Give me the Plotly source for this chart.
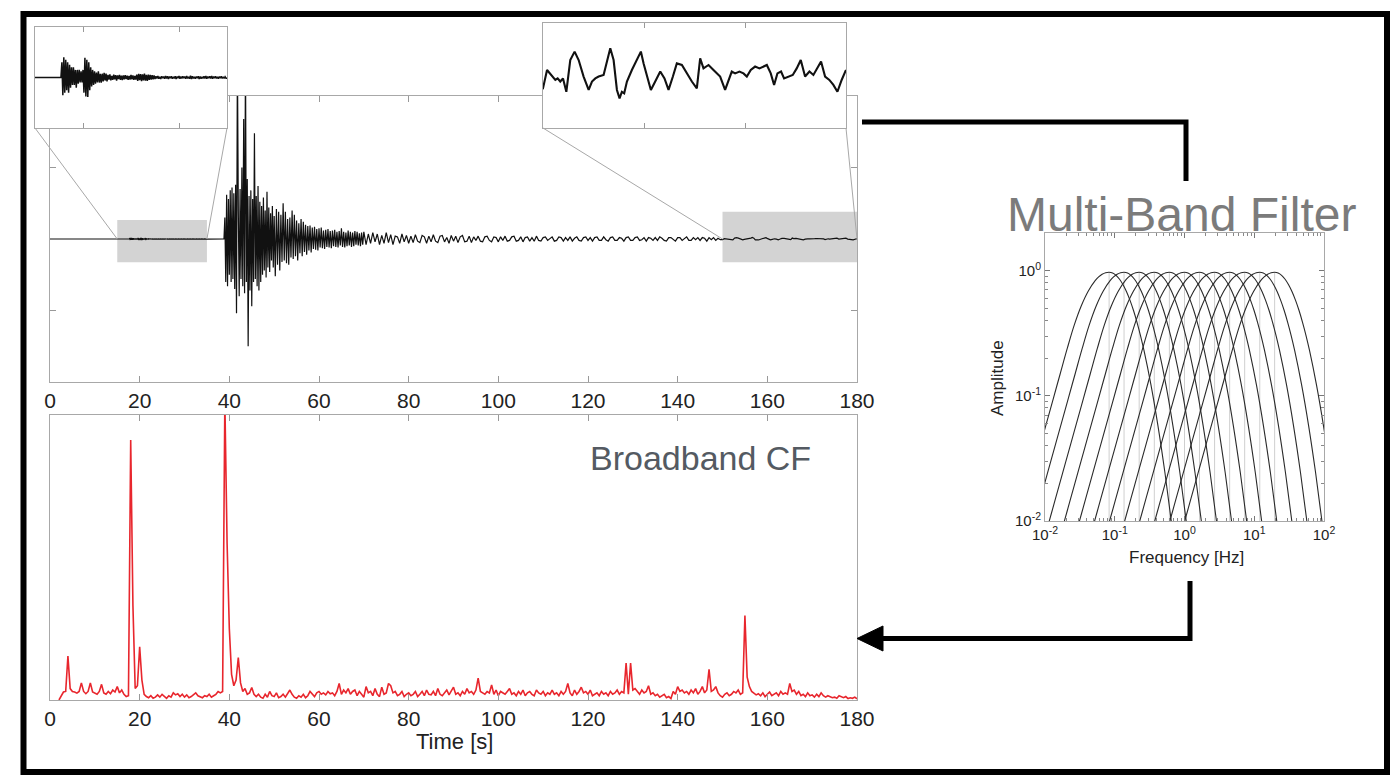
import numpy as np
import plotly.graph_objects as go

W, H = 1394, 777
FONT = "Liberation Sans, Arial, Helvetica, sans-serif"

# ------------------------------------------------------------------ data
time_ticks = [0, 20, 40, 60, 80, 100, 120, 140, 160, 180]

# --- seismogram (counts; main panel shows +-1000) ---
seis_pre_t = [0.0, 17.6]
seis_pre_v = [0.0, 0.0]

burst_start, burst_step = 17.7, 0.1
burst_v = [0, 6, -7, 8, -6, 7, -5, 6, -6, 5,
           -4, 4, -3, 4, -3, 3, -4, 3, -2.5, 3,
           -2, 2.5, -2, 3, -6, 7.8, -7.5, 7, -7.7, 6,
           -5, 4, -3.5, 3, -3, 2.5, -2.5, 2, -2, 2.5,
           -2, 1.5, -2, 1.5, -1.5, 1.8, -1.2, 1.5, -1.5]

coda1_start, coda1_step = 22.6, 0.1
coda1_v = [1.0, -0.8, 1.2, -1.1, 0.6, -0.9, 1.1, -0.7, 0.9, -1.2,
           0.8, -0.6, 1.0, -0.9, 0.7, -1.0, 0.8, -0.7, 0.9, -0.6,
           0.7, -0.9, 0.6, -0.8, 1.0, -0.7, 0.8, -0.9, 0.6, -0.8,
           1.1, -1.3, 1.4, -1.0, 1.3, -1.4, 1.2, -1.1, 1.5, -1.2,
           1.0, -1.3, 1.1, -0.9, 1.0, -0.8, 0.9, -0.7, 0.8, -0.6,
           0.5, -0.4, 0.6, -0.5, 0.3, -0.6, 0.5, -0.3, 0.4, -0.5,
           0.6, -0.4, 0.5, -0.6, 0.4, -0.3, 0.5, -0.5, 0.3, -0.4,
           0.5, -0.6, 0.4, -0.3, 0.6, -0.5, 0.4, -0.4, 0.5, -0.3,
           0.4, -0.5, 0.6, -0.4, 0.3, -0.5, 0.7, -0.6, 0.5, -0.4,
           0.3, -0.5, 0.4, -0.3, 0.5, -0.6, 0.4, -0.5, 0.3, -0.4,
           0.5, -0.4, 0.6, -0.5, 0.4, -0.3, 0.5, -0.4, 0.6, -0.5,
           0.4, -0.3, 0.5, -0.4, 0.3, -0.5, 0.4, -0.3, 0.5, -0.4,
           0.3, -0.4, 0.3, -0.3]

quiet_t = [38.8]
quiet_v = [0.0]

main_a_start, main_a_step = 39.0, 0.2
main_a_v = [150, -300, 310, -330, 280, -250, 340, -300, 360, -280,
            320, -350, 380, -520, 1300, 200, -400, 350, -280, 500,
            -330, 840, -380, 1300, -300, 420, -750, 300, -360, 340,
            -470, 280, -300, 740, -280, 300, -330, 370, -360, 260,
            -300, 230, -250, 290, -220, 200, -270, 330, -200, 220,
            -230, 180, -150, 230, -200, 160]

main_b_start, main_b_step = 50.25, 0.25
main_b_v = [-260, 210, -180, 190, -220, 170, -160, 250, -150, 190,
            -170, 140, -180, 150, -130, 200, -140, 170, -120, 130,
            -150, 110, -100, 140, -120, 120, -90, 100, -110, 90,
            -80, 95, -95, 80, -70, 85, -75, 70, -80, 75,
            -60, 80, -65, 60, -70, 65, -55, 70, -60, 55,
            -65, 60, -50, 65, -55, 50, -60, 55, -45, 75,
            -55, 50, -60, 45, -50, 60, -45, 50, -55, 45,
            -50, 55, -40, 50, -45, 40, -50, 45, -40, 50]

main_c_start, main_c_step = 70.5, 0.5
main_c_v = [-40, 35, -30, 45, -20, 35, -40, 25, -30, 45,
            -25, 30, -40, 20, 15, -30, 35, -20, 25, -30,
            20, -25, 30, -15, -25, 25, 15, -30, 20, -20,
            30, -15, -25, 20, 25, -20, 10, -30, 25, -15,
            20, -25, 15, 25, -20, -15, 20, -25, 15, -10,
            20, -15, -20, 15, 20, -10, -20, 15, 10, -20,
            15, -10, 20, -15, -10, 15, 20, -15, -10, 15,
            -20, 10, 15, -15, 10, -15, 20, -10, -15, 10,
            15, -10, 5, 15, -15, -10, 15, 10, -15, 10,
            -10, 15, -15, 5, 15, -10, -15, 10, 15, -10,
            10, -15, 10, 15, -10, -10, 15, -5, -15, 10,
            15, -10, -10, 10, 5, -15, 10, 15, -10, -10,
            10, 15, -10, -5, 10, -15, 10, 5, -10, 10,
            -10, 15, 5, -10, -15, 10, 10, -5, -15, 10,
            10, -10, 5, 15, -10, -10, 10, -5, 10, -10,
            10, 5, -15, 10, -5, 10, -10, 5, -5]

tail_t = [150.00, 150.40, 150.89, 151.22, 151.45, 151.71, 151.98, 152.31, 152.70, 153.13,
          153.53, 154.02, 154.52, 154.85, 155.18, 155.51, 156.00, 156.33, 156.66, 156.99,
          157.32, 157.58, 157.81, 158.04, 158.31, 158.80, 159.30, 159.69, 159.96, 160.29,
          160.68, 161.11, 161.61, 162.03, 162.43, 162.86, 163.25, 163.75, 164.24, 164.74,
          165.23, 165.56, 165.89, 166.39, 166.88, 167.54, 168.03, 168.46, 168.69, 169.02,
          169.45, 169.85, 170.18, 170.57, 171.00, 171.43, 171.89, 172.16, 172.55, 172.88,
          173.21, 173.57, 173.87, 174.30, 174.73, 175.12, 175.52, 175.95, 176.38, 176.77,
          177.17, 177.53, 177.93, 178.35, 178.75, 179.15, 179.57, 180.00]
tail_v = [-4.9, 2.1, -0.4, -1.7, -1.1, -2.3, -1.1, -6.2, 5.9, 9.1,
          5.9, -0.4, -5.5, -2.3, -1.1, -0.4, 0.2, 5.9, 10.4, 5.9,
          -5.5, -8.7, -6.2, -6.8, -2.3, 2.1, 5.9, 9.1, 4.6, -0.4,
          -5.5, -2.3, 1.5, -1.1, -5.5, -0.4, 4.6, 4.0, 0.8, -2.3,
          -4.9, 6.5, 2.7, 4.0, 2.1, -0.4, -5.5, -1.1, 1.5, 0.8,
          1.5, 0.8, -0.4, 2.1, 3.4, 2.7, 3.4, 4.0, 0.8, -3.6,
          0.8, 1.5, -1.1, -0.4, 0.2, 2.7, 5.9, -0.4, 1.5, 0.2,
          2.7, 5.3, -0.4, -1.7, -3.6, -6.2, -1.7, 2.1]

seis_amp_range = [-1000, 1000]
seis_yticks = [-500, 500]
gray_box_t = [[15, 35], [150, 180]]
gray_box_amp = [[-163, 133], [-163, 191]]
inset_windows = [[15, 35], [150, 180]]
inset_amp_range = [-20, 20]
inset_ticks = [[20, 30], [160, 170]]

# --- broadband characteristic function ---
cf_start, cf_step = 2.0, 0.5
cf_v = [0.0, 0.015, 0.028, 0.03, 0.154, 0.04, 0.03, 0.028, 0.024, 0.03,
        0.06, 0.03, 0.022, 0.03, 0.06, 0.028, 0.025, 0.02, 0.03, 0.055,
        0.025, 0.02, 0.03, 0.022, 0.035, 0.028, 0.047, 0.025, 0.035, 0.02,
        0.012, 0.015, 0.912, 0.33, 0.04, 0.05, 0.187, 0.07, 0.02, 0.012,
        0.008, 0.015, 0.006, 0.01, 0.018, 0.01, 0.02, 0.012, 0.006, 0.015,
        0.01, 0.025, 0.018, 0.022, 0.012, 0.02, 0.01, 0.018, 0.008, 0.012,
        0.02, 0.025, 0.015, 0.01, 0.008, 0.015, 0.012, 0.02, 0.01, 0.015,
        0.02, 0.03, 0.025, 0.03, 1.05, 0.55, 0.25, 0.09, 0.05, 0.07,
        0.149, 0.06, 0.03, 0.04, 0.02, 0.025, 0.044, 0.02, 0.012, 0.02,
        0.01, 0.006, 0.02, 0.01, 0.03, 0.015, 0.012, 0.025, 0.008, 0.012,
        0.02, 0.01, 0.025, 0.035, 0.02, 0.01, 0.006, 0.015, 0.01, 0.02,
        0.008, 0.015, 0.03, 0.02, 0.012, 0.025, 0.03, 0.02, 0.025, 0.018,
        0.03, 0.022, 0.025, 0.015, 0.03, 0.058, 0.02, 0.035, 0.025, 0.04,
        0.02, 0.03, 0.035, 0.015, 0.03, 0.02, 0.01, 0.047, 0.025, 0.03,
        0.015, 0.04, 0.02, 0.012, 0.045, 0.02, 0.025, 0.058, 0.05, 0.025,
        0.03, 0.015, 0.02, 0.03, 0.012, 0.02, 0.025, 0.015, 0.02, 0.03,
        0.012, 0.02, 0.03, 0.015, 0.035, 0.02, 0.018, 0.03, 0.015, 0.04,
        0.02, 0.015, 0.025, 0.035, 0.018, 0.03, 0.045, 0.02, 0.025, 0.015,
        0.03, 0.02, 0.04, 0.025, 0.03, 0.02, 0.035, 0.077, 0.03, 0.025,
        0.02, 0.03, 0.025, 0.053, 0.02, 0.035, 0.015, 0.03, 0.025, 0.02,
        0.03, 0.04, 0.02, 0.025, 0.015, 0.03, 0.02, 0.035, 0.015, 0.025,
        0.03, 0.02, 0.015, 0.035, 0.025, 0.02, 0.03, 0.015, 0.025, 0.02,
        0.035, 0.02, 0.025, 0.015, 0.03, 0.02, 0.03, 0.058, 0.025, 0.015,
        0.035, 0.02, 0.03, 0.045, 0.025, 0.03, 0.02, 0.035, 0.015, 0.02,
        0.025, 0.015, 0.03, 0.02, 0.025, 0.015, 0.03, 0.02, 0.025, 0.035,
        0.02, 0.03, 0.025, 0.13, 0.02, 0.13, 0.035, 0.04, 0.03, 0.02,
        0.035, 0.025, 0.03, 0.05, 0.02, 0.025, 0.015, 0.02, 0.01, 0.015,
        0.02, 0.008, 0.012, 0.005, 0.03, 0.02, 0.047, 0.03, 0.035, 0.025,
        0.03, 0.02, 0.035, 0.025, 0.04, 0.02, 0.03, 0.047, 0.025, 0.035,
        0.108, 0.03, 0.035, 0.047, 0.025, 0.015, 0.01, 0.02, 0.025, 0.015,
        0.02, 0.03, 0.025, 0.035, 0.02, 0.025, 0.296, 0.08, 0.047, 0.03,
        0.025, 0.018, 0.022, 0.015, 0.025, 0.012, 0.02, 0.028, 0.015, 0.02,
        0.025, 0.015, 0.03, 0.02, 0.025, 0.02, 0.058, 0.03, 0.035, 0.02,
        0.03, 0.015, 0.02, 0.012, 0.025, 0.015, 0.018, 0.01, 0.02, 0.012,
        0.025, 0.015, 0.01, 0.015, 0.012, 0.008, 0.01, 0.006, 0.015, 0.01,
        0.008, 0.012, 0.005, 0.008, 0.006, 0.01, 0.004]

# --- multi-band filter bank ---
band_centers_hz = [0.083, 0.136, 0.224, 0.369, 0.607, 1.0, 1.64, 2.70, 4.44, 7.29, 12.0, 19.6]
resp_offset_dec = [-1.4, -1.3, -1.2, -1.1, -1.0, -0.9, -0.8, -0.7, -0.6, -0.5, -0.4, -0.3,
                   -0.2, -0.15, -0.1, -0.05, 0.0, 0.05, 0.1, 0.15, 0.2, 0.25, 0.3, 0.35,
                   0.4, 0.45, 0.5, 0.6, 0.7, 0.8, 0.9, 1.0]
resp_log_amp = [-2.222, -2.022, -1.822, -1.622, -1.422, -1.222, -1.022, -0.822, -0.622, -0.436,
                -0.283, -0.165, -0.081, -0.051, -0.030, -0.017, -0.013, -0.019, -0.038, -0.069,
                -0.113, -0.169, -0.238, -0.319, -0.413, -0.519, -0.638, -0.913, -1.238, -1.613,
                -2.038, -2.513]
freq_ticks = [0.01, 0.1, 1, 10, 100]
freq_ticktext = ["10<sup>-2</sup>", "10<sup>-1</sup>", "10<sup>0</sup>", "10<sup>1</sup>", "10<sup>2</sup>"]
amp_ticks = [0.01, 0.1, 1]
amp_ticktext = ["10<sup>-2</sup>", "10<sup>-1</sup>", "10<sup>0</sup>"]


# ------------------------------------------------------------------ build series
def seg(start, step, vals):
    return list(start + step * np.arange(len(vals)))


seis_t = (seis_pre_t + seg(burst_start, burst_step, burst_v) + seg(coda1_start, coda1_step, coda1_v)
          + quiet_t + seg(main_a_start, main_a_step, main_a_v) + seg(main_b_start, main_b_step, main_b_v)
          + seg(main_c_start, main_c_step, main_c_v) + tail_t)
seis_v = (seis_pre_v + burst_v + coda1_v + quiet_v + main_a_v + main_b_v + main_c_v + tail_v)
cf_t = seg(cf_start, cf_step, cf_v)


# ------------------------------------------------------------------ layout helpers
def px(x):
    return x / W


def py(y):
    return 1 - y / H


DOM_MAIN_X = [px(50), px(857)]
DOM_TOP_Y = [py(382), py(96)]
DOM_BOT_Y = [py(700), py(415)]
DOM_F_X = [px(1045), px(1324)]
DOM_F_Y = [py(521), py(233)]
DOM_I1_X = [px(35), px(227)]
DOM_I1_Y = [py(128), py(27)]
DOM_I2_X = [px(543), px(846)]
DOM_I2_Y = [py(128), py(23)]

fig = go.Figure()

fig.add_trace(go.Scatter(x=seis_t, y=seis_v, mode="lines", line=dict(color="#111111", width=1.2),
                         xaxis="x", yaxis="y", hoverinfo="skip"))
fig.add_trace(go.Scatter(x=cf_t, y=cf_v, mode="lines", line=dict(color="#e8262d", width=1.6),
                         xaxis="x2", yaxis="y2", hoverinfo="skip"))
peak_amp = 10 ** resp_log_amp[resp_offset_dec.index(0.0)]
vx, vy = [], []
for c in band_centers_hz:
    vx += [c, c, None]
    vy += [0.01, peak_amp, None]
fig.add_trace(go.Scatter(x=vx, y=vy, mode="lines", line=dict(color="#cfcfcf", width=1),
                         xaxis="x3", yaxis="y3", hoverinfo="skip"))
for c in band_centers_hz:
    fx = [c * 10 ** u for u in resp_offset_dec]
    fy = [10 ** a for a in resp_log_amp]
    fig.add_trace(go.Scatter(x=fx, y=fy, mode="lines", line=dict(color="#2a2a2a", width=1.1, shape="spline"),
                             xaxis="x3", yaxis="y3", hoverinfo="skip"))
fig.add_trace(go.Scatter(x=seis_t, y=seis_v, mode="lines", line=dict(color="#111111", width=1.5),
                         xaxis="x4", yaxis="y4", hoverinfo="skip"))
fig.add_trace(go.Scatter(x=seis_t, y=seis_v, mode="lines", line=dict(color="#111111", width=2.1),
                         xaxis="x5", yaxis="y5", hoverinfo="skip"))

tickfont = dict(family=FONT, size=21, color="#222222")
frame = dict(showline=True, linecolor="#a8a8a8", linewidth=1, showgrid=False, zeroline=False, automargin=False)

fig.update_layout(
    template="none",
    width=W, height=H, autosize=False,
    margin=dict(l=0, r=0, t=0, b=0, pad=0, autoexpand=False),
    paper_bgcolor="white", plot_bgcolor="white",
    showlegend=False,
    font=dict(family=FONT),
    xaxis=dict(domain=DOM_MAIN_X, range=[0, 180], anchor="y", tickmode="array", tickvals=time_ticks,
               ticks="inside", ticklen=6, tickcolor="#999999", mirror="ticks", tickfont=tickfont, **frame),
    yaxis=dict(domain=DOM_TOP_Y, range=seis_amp_range, anchor="x", tickmode="array", tickvals=seis_yticks,
               ticks="inside", ticklen=6, tickcolor="#999999", mirror="ticks", showticklabels=False, **frame),
    xaxis2=dict(domain=DOM_MAIN_X, range=[0, 180], anchor="y2", tickmode="array", tickvals=time_ticks,
                ticks="inside", ticklen=6, tickcolor="#999999", mirror="ticks", tickfont=tickfont, **frame),
    yaxis2=dict(domain=DOM_BOT_Y, range=[0, 1], anchor="x2", ticks="", showticklabels=False,
                mirror=True, **frame),
    xaxis3=dict(domain=DOM_F_X, type="log", range=[-2, 2], anchor="y3", tickmode="array",
                tickvals=freq_ticks, ticktext=freq_ticktext, ticks="inside", ticklen=5, tickcolor="#777777",
                mirror="ticks", tickfont=dict(family=FONT, size=15, color="#222222"),
                minor=dict(ticks="inside", ticklen=3, tickcolor="#888888", tickmode="array",
                           tickvals=[m * 10 ** k for k in (-2, -1, 0, 1) for m in range(2, 10)]),
                **frame),
    yaxis3=dict(domain=DOM_F_Y, type="log", range=[-2, 0.3], anchor="x3", tickmode="array",
                tickvals=amp_ticks, ticktext=amp_ticktext, ticks="inside", ticklen=5, tickcolor="#777777",
                mirror="ticks", tickfont=dict(family=FONT, size=15, color="#222222"),
                minor=dict(ticks="inside", ticklen=3, tickcolor="#888888", tickmode="array",
                           tickvals=[m * 10 ** k for k in (-2, -1, 0) for m in range(2, 10)]),
                **frame),
    xaxis4=dict(domain=DOM_I1_X, range=inset_windows[0], anchor="y4", tickmode="array", tickvals=inset_ticks[0],
                ticks="inside", ticklen=5, tickcolor="#999999", mirror="ticks", showticklabels=False, **frame),
    yaxis4=dict(domain=DOM_I1_Y, range=inset_amp_range, anchor="x4", ticks="", showticklabels=False,
                mirror=True, **frame),
    xaxis5=dict(domain=DOM_I2_X, range=inset_windows[1], anchor="y5", tickmode="array", tickvals=inset_ticks[1],
                ticks="inside", ticklen=5, tickcolor="#999999", mirror="ticks", showticklabels=False, **frame),
    yaxis5=dict(domain=DOM_I2_Y, range=inset_amp_range, anchor="x5", ticks="", showticklabels=False,
                mirror=True, **frame),
)


def main_xp(t):
    return DOM_MAIN_X[0] + (t - 0) / 180 * (DOM_MAIN_X[1] - DOM_MAIN_X[0])


def main_yp(v):
    return DOM_TOP_Y[0] + (v - seis_amp_range[0]) / (seis_amp_range[1] - seis_amp_range[0]) * (DOM_TOP_Y[1] - DOM_TOP_Y[0])


shapes = []
for (t0, t1), (a0, a1) in zip(gray_box_t, gray_box_amp):
    shapes.append(dict(type="rect", xref="x", yref="y", x0=t0, x1=t1, y0=a0, y1=a1,
                       fillcolor="#d3d3d3", line=dict(width=0), layer="below"))
for dom_x, dom_y, (t0, t1) in [(DOM_I1_X, DOM_I1_Y, inset_windows[0]), (DOM_I2_X, DOM_I2_Y, inset_windows[1])]:
    for cx, tt in [(dom_x[0], t0), (dom_x[1], t1)]:
        shapes.append(dict(type="line", xref="paper", yref="paper", x0=cx, y0=dom_y[0],
                           x1=main_xp(tt), y1=main_yp(0), line=dict(color="#a8a8a8", width=1)))


def path(points, close=False):
    s = "M " + " L ".join(f"{px(x):.5f},{py(y):.5f}" for x, y in points)
    return s + (" Z" if close else "")


shapes.append(dict(type="path", xref="paper", yref="paper",
                   path=path([(862, 122), (1186, 122), (1186, 181)]),
                   line=dict(color="black", width=5)))
shapes.append(dict(type="path", xref="paper", yref="paper",
                   path=path([(1190, 581), (1190, 638.5), (878, 638.5)]),
                   line=dict(color="black", width=5)))
shapes.append(dict(type="path", xref="paper", yref="paper",
                   path=path([(857, 638.5), (883, 626), (883, 651)], close=True),
                   fillcolor="black", line=dict(color="black", width=1)))
shapes.append(dict(type="rect", xref="paper", yref="paper", x0=px(23.5), x1=px(1387), y0=py(772), y1=py(14),
                   line=dict(color="black", width=6)))
fig.update_layout(shapes=shapes)

annotations = [
    dict(text="Multi-Band Filter", x=px(1181), y=py(214), xref="paper", yref="paper", showarrow=False,
         xanchor="center", yanchor="middle", font=dict(family=FONT, size=48, color="#7b7b7b")),
    dict(text="Broadband CF", x=px(700), y=py(458), xref="paper", yref="paper", showarrow=False,
         xanchor="center", yanchor="middle", font=dict(family=FONT, size=34, color="#545a62")),
    dict(text="Time [s]", x=px(454), y=py(741), xref="paper", yref="paper", showarrow=False,
         xanchor="center", yanchor="middle", font=dict(family=FONT, size=22, color="#222222")),
    dict(text="Frequency [Hz]", x=px(1186), y=py(557), xref="paper", yref="paper", showarrow=False,
         xanchor="center", yanchor="middle", font=dict(family=FONT, size=17, color="#222222")),
    dict(text="Amplitude", x=px(997), y=py(378), xref="paper", yref="paper", showarrow=False, textangle=-90,
         xanchor="center", yanchor="middle", font=dict(family=FONT, size=17, color="#222222")),
]
fig.update_layout(annotations=annotations)

fig.write_html("out.html")
